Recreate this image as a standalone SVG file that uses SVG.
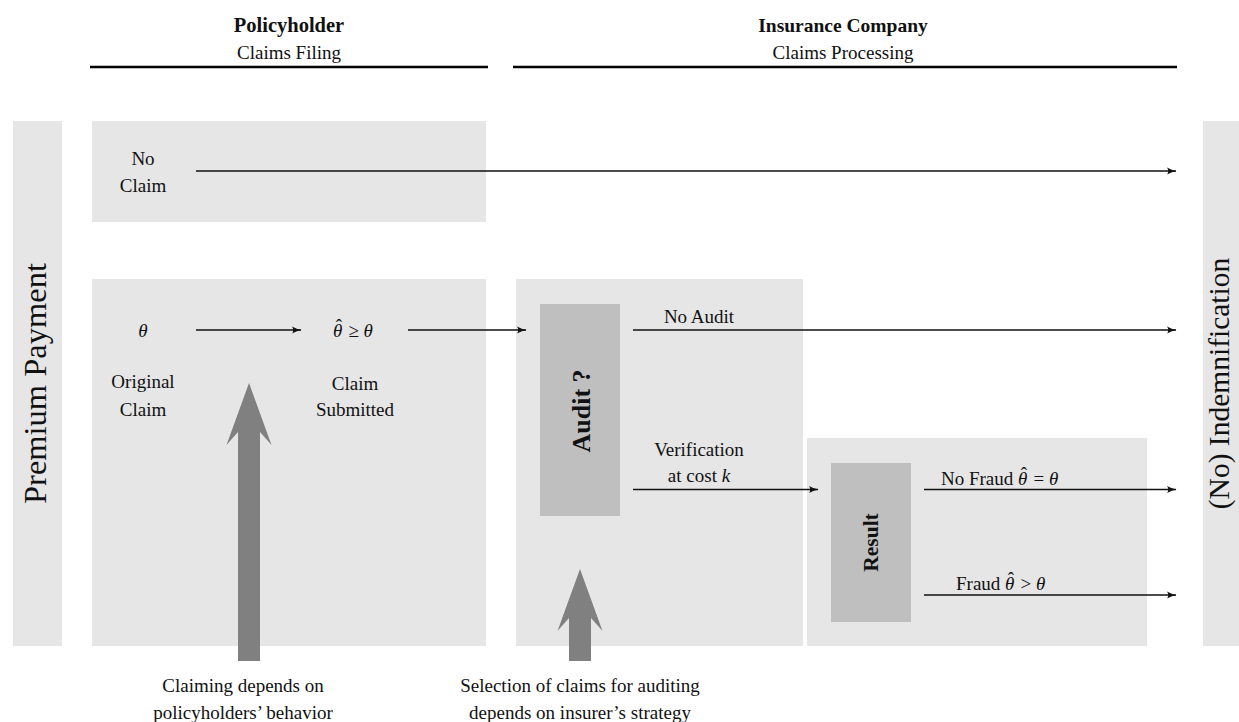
<svg xmlns="http://www.w3.org/2000/svg" width="1239" height="722" viewBox="0 0 1239 722">
<defs>
<style>
.bg{fill:#e6e6e6}
.dk{fill:#bfbfbf}
.t{font-family:"Liberation Serif","DejaVu Serif",serif;font-size:19px;fill:#111;text-anchor:middle}
.s{text-anchor:start}
.b{font-weight:bold}
.m{font-style:italic}
.ln{stroke:#111;stroke-width:1.7;fill:none;marker-end:url(#ah)}
.hd{stroke:#000;stroke-width:2.6}
.big{fill:#808080}
</style>
<marker id="ah" markerUnits="userSpaceOnUse" markerWidth="12" markerHeight="10" refX="9" refY="5" orient="auto">
<path d="M0,1.4 Q5,4.2 9.5,5 Q5,5.8 0,8.6 Q2.5,5 0,1.4 Z" fill="#111"/>
</marker>
</defs>

<g id="header-policyholder">
<text class="t b" x="289" y="32" style="font-size:20.5px">Policyholder</text>
<text class="t" x="289" y="59">Claims Filing</text>
<line class="hd" x1="90" y1="67" x2="488" y2="67"/>
</g>
<g id="header-insurer">
<text class="t b" x="843" y="32" style="font-size:19.5px">Insurance Company</text>
<text class="t" x="843" y="59">Claims Processing</text>
<line class="hd" x1="513" y1="67" x2="1177" y2="67"/>
</g>

<g id="premium-payment">
<rect class="bg" x="13" y="121" width="49" height="525"/>
<text class="t" transform="translate(46,383.5) rotate(-90)" style="font-size:32.5px">Premium Payment</text>
</g>
<g id="indemnification">
<rect class="bg" x="1203" y="121" width="36" height="525"/>
<text class="t" transform="translate(1229,383.5) rotate(-90)" style="font-size:29.5px">(No) Indemnification</text>
</g>

<g id="no-claim">
<rect class="bg" x="92" y="121" width="394" height="101"/>
<text class="t" x="143" y="165">No</text>
<text class="t" x="143" y="192">Claim</text>
</g>

<g id="filing">
<rect class="bg" x="92" y="279" width="394" height="367"/>
<text class="t m" x="143" y="337">θ</text>
<text class="t" x="143" y="388">Original</text>
<text class="t" x="143" y="416">Claim</text>
<text class="t s" x="333" y="337"><tspan class="m">θ</tspan><tspan dx="-6.6" dy="-5">ˆ</tspan><tspan dx="1.6" dy="5"> ≥ </tspan><tspan class="m">θ</tspan></text>
<text class="t" x="355" y="390">Claim</text>
<text class="t" x="355" y="416">Submitted</text>
</g>

<g id="audit-region">
<rect class="bg" x="516" y="279" width="287" height="367"/>
</g>
<g id="audit">
<rect class="dk" x="540" y="304" width="80" height="212"/>
<text class="t b" transform="translate(590,411) rotate(-90)" style="font-size:26px">Audit ?</text>
</g>
<g id="result-region">
<rect class="bg" x="807" y="438" width="340" height="208"/>
</g>
<g id="result">
<rect class="dk" x="831" y="463" width="80" height="159"/>
<text class="t b" transform="translate(878,542.5) rotate(-90)" style="font-size:21.5px">Result</text>
</g>

<g id="connectors">
<line class="ln" x1="196" y1="171" x2="1176" y2="171"/>
<line class="ln" x1="196" y1="330" x2="301" y2="330"/>
<line class="ln" x1="408" y1="330" x2="526" y2="330"/>
<line class="ln" x1="633" y1="330" x2="1176" y2="330"/>
<line class="ln" x1="633" y1="489.5" x2="818" y2="489.5"/>
<line class="ln" x1="924" y1="489.5" x2="1176" y2="489.5"/>
<line class="ln" x1="924" y1="595" x2="1176" y2="595"/>
<text class="t" x="699" y="323">No Audit</text>
<text class="t" x="699" y="456">Verification</text>
<text class="t" x="699" y="482">at cost <tspan class="m">k</tspan></text>
<text class="t s" x="941" y="485">No Fraud <tspan class="m">θ</tspan><tspan dx="-6.6" dy="-5">ˆ</tspan><tspan dx="1.6" dy="5"> = </tspan><tspan class="m">θ</tspan></text>
<text class="t s" x="956" y="590">Fraud <tspan class="m">θ</tspan><tspan dx="-6.6" dy="-5">ˆ</tspan><tspan dx="1.6" dy="5"> &gt; </tspan><tspan class="m">θ</tspan></text>
<path class="big" d="M249,383 L271.5,445 L260,432 L260,661 L238,661 L238,432 L226.5,445 Z"/>
<path class="big" d="M580,569 L602.5,631 L591,618 L591,661 L569,661 L569,618 L557.5,631 Z"/>
</g>

<g id="notes">
<text class="t" x="243" y="692">Claiming depends on</text>
<text class="t" x="243" y="719">policyholders’ behavior</text>
<text class="t" x="580" y="692">Selection of claims for auditing</text>
<text class="t" x="580" y="719">depends on insurer’s strategy</text>
</g>
</svg>
